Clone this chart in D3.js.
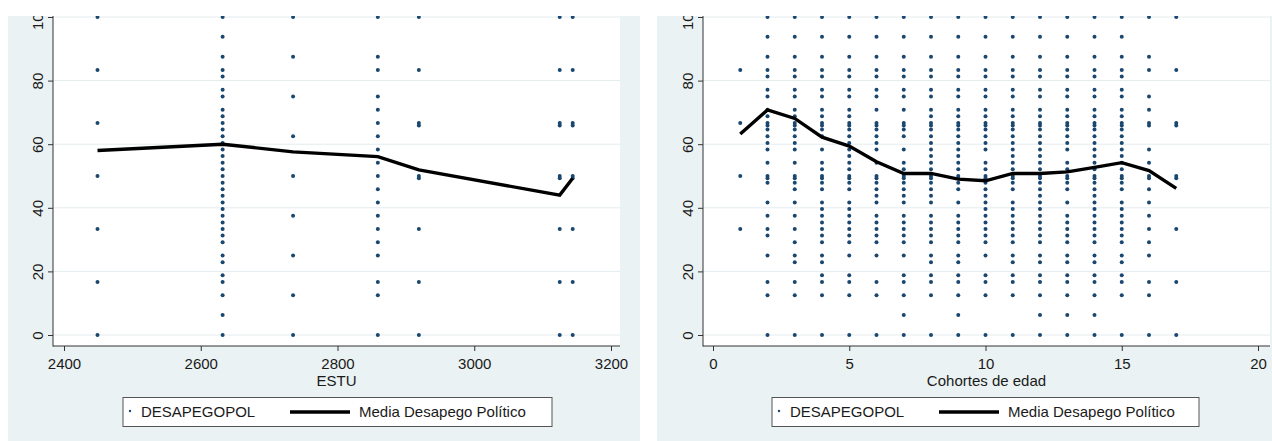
<!DOCTYPE html>
<html>
<head>
<meta charset="utf-8">
<script src="https://cdn.jsdelivr.net/npm/d3@7"></script>
<style>
  body { margin: 0; background: #fff; }
  svg { display: block; font-family: "Liberation Sans", Arial, Helvetica, sans-serif; }
</style>
</head>
<body>
<svg id="chart" width="1272" height="441"></svg>
<script>
// --- data ---
const yTicks = [0, 20, 40, 60, 80, 100];
const estuTicks = [2400, 2600, 2800, 3000, 3200];
const cohortTicks = [0, 5, 10, 15, 20];
const legendLabels = ['DESAPEGOPOL', 'Media Desapego Político'];

// ESTU columns and their DESAPEGOPOL values
const estuValues = [2449, 2632, 2735, 2859, 2919, 3125, 3144];
const estuScores = [
    [100, 83.3, 66.7, 50, 33.3, 16.7, 0],
    [100, 93.8, 87.5, 83.3, 81.3, 77.1, 75, 70.8, 68.8, 66.7, 64.6, 62.5, 60.4, 58.3, 56.3, 54.2, 52.1, 50, 47.9, 45.8, 43.8, 41.7, 39.6, 37.5, 35.4, 33.3, 31.3, 29.2, 25, 22.9, 18.8, 16.7, 12.5, 6.3, 0],
    [100, 87.5, 75, 62.5, 50, 37.5, 25, 12.5, 0],
    [100, 87.5, 83.3, 75, 70.8, 66.7, 62.5, 58.3, 54.2, 50, 45.8, 41.7, 37.5, 33.3, 29.2, 25, 16.7, 12.5, 0],
    [100, 83.3, 66.7, 65.9, 50, 49.3, 33.3, 16.7, 0],
    [100, 83.3, 66.7, 65.9, 50, 49.3, 33.3, 16.7, 0],
    [100, 83.3, 66.7, 65.9, 50, 49.3, 33.3, 16.7, 0]
];
const estuMeans = [58.0, 60.0, 57.6, 56.1, 51.9, 44.0, 49.3];

// age cohorts and their DESAPEGOPOL values
const cohortValues = [1, 2, 3, 4, 5, 6, 7, 8, 9, 10, 11, 12, 13, 14, 15, 16, 17];
const cohortScores = [
    [83.3, 66.7, 50, 33.3],
    [100, 93.8, 87.5, 83.3, 81.3, 77.1, 75, 70.8, 68.8, 66.7, 65.9, 64.6, 62.5, 60.4, 58.3, 54.2, 50, 49.3, 47.9, 41.7, 37.5, 33.3, 31.3, 25, 16.7, 12.5, 0],
    [100, 93.8, 87.5, 83.3, 81.3, 77.1, 75, 70.8, 68.8, 66.7, 65.9, 64.6, 62.5, 60.4, 58.3, 54.2, 50, 49.3, 47.9, 45.8, 41.7, 37.5, 33.3, 29.2, 25, 22.9, 16.7, 12.5, 0],
    [100, 93.8, 87.5, 83.3, 81.3, 77.1, 75, 70.8, 68.8, 66.7, 65.9, 64.6, 62.5, 58.3, 54.2, 52.1, 50, 49.3, 47.9, 45.8, 41.7, 39.6, 37.5, 35.4, 33.3, 31.3, 29.2, 25, 22.9, 18.8, 16.7, 12.5, 0],
    [100, 93.8, 87.5, 83.3, 81.3, 77.1, 75, 70.8, 68.8, 66.7, 65.9, 64.6, 62.5, 60.4, 58.3, 56.3, 54.2, 52.1, 50, 49.3, 47.9, 45.8, 41.7, 39.6, 37.5, 35.4, 33.3, 31.3, 29.2, 25, 18.8, 16.7, 12.5, 0],
    [100, 93.8, 87.5, 83.3, 81.3, 77.1, 75, 70.8, 66.7, 65.9, 64.6, 62.5, 60.4, 58.3, 54.2, 50, 49.3, 47.9, 45.8, 43.8, 41.7, 37.5, 35.4, 33.3, 31.3, 29.2, 25, 16.7, 12.5, 0],
    [100, 93.8, 87.5, 83.3, 81.3, 77.1, 75, 70.8, 66.7, 65.9, 64.6, 62.5, 58.3, 54.2, 52.1, 50, 49.3, 47.9, 45.8, 43.8, 41.7, 37.5, 35.4, 33.3, 31.3, 29.2, 25, 18.8, 16.7, 12.5, 6.3, 0],
    [100, 93.8, 87.5, 83.3, 81.3, 77.1, 75, 70.8, 68.8, 66.7, 65.9, 64.6, 62.5, 60.4, 58.3, 56.3, 54.2, 52.1, 50, 49.3, 47.9, 45.8, 43.8, 41.7, 37.5, 35.4, 33.3, 31.3, 29.2, 25, 22.9, 18.8, 16.7, 12.5, 0],
    [100, 93.8, 87.5, 83.3, 81.3, 77.1, 75, 70.8, 68.8, 66.7, 65.9, 64.6, 62.5, 60.4, 58.3, 56.3, 54.2, 52.1, 50, 49.3, 47.9, 45.8, 41.7, 37.5, 35.4, 33.3, 31.3, 29.2, 25, 22.9, 18.8, 16.7, 12.5, 6.3, 0],
    [100, 93.8, 87.5, 83.3, 81.3, 77.1, 75, 70.8, 68.8, 66.7, 65.9, 64.6, 62.5, 60.4, 58.3, 54.2, 52.1, 50, 49.3, 47.9, 45.8, 43.8, 41.7, 39.6, 37.5, 35.4, 33.3, 31.3, 29.2, 25, 18.8, 16.7, 12.5, 0],
    [100, 93.8, 87.5, 83.3, 81.3, 77.1, 75, 70.8, 68.8, 66.7, 65.9, 64.6, 62.5, 60.4, 58.3, 56.3, 54.2, 52.1, 50, 49.3, 47.9, 45.8, 41.7, 39.6, 37.5, 35.4, 33.3, 31.3, 29.2, 25, 22.9, 18.8, 16.7, 12.5, 0],
    [100, 93.8, 87.5, 83.3, 81.3, 77.1, 75, 70.8, 68.8, 66.7, 65.9, 64.6, 62.5, 60.4, 58.3, 56.3, 54.2, 52.1, 50, 49.3, 47.9, 45.8, 43.8, 41.7, 39.6, 37.5, 35.4, 33.3, 31.3, 29.2, 25, 22.9, 18.8, 16.7, 12.5, 6.3, 0],
    [100, 93.8, 87.5, 83.3, 81.3, 77.1, 75, 70.8, 68.8, 66.7, 65.9, 64.6, 62.5, 60.4, 58.3, 54.2, 52.1, 50, 49.3, 47.9, 45.8, 41.7, 37.5, 35.4, 33.3, 31.3, 29.2, 25, 22.9, 18.8, 16.7, 12.5, 6.3, 0],
    [100, 93.8, 87.5, 83.3, 81.3, 77.1, 75, 70.8, 68.8, 66.7, 65.9, 64.6, 62.5, 60.4, 58.3, 56.3, 54.2, 52.1, 50, 49.3, 47.9, 45.8, 43.8, 41.7, 39.6, 37.5, 35.4, 33.3, 31.3, 29.2, 25, 22.9, 18.8, 16.7, 12.5, 6.3, 0],
    [100, 93.8, 87.5, 83.3, 81.3, 77.1, 75, 70.8, 68.8, 66.7, 65.9, 64.6, 62.5, 60.4, 58.3, 56.3, 54.2, 52.1, 50, 49.3, 47.9, 45.8, 41.7, 39.6, 37.5, 35.4, 33.3, 31.3, 29.2, 25, 22.9, 18.8, 16.7, 12.5, 0],
    [100, 87.5, 83.3, 75, 70.8, 66.7, 65.9, 58.3, 54.2, 50, 49.3, 45.8, 41.7, 37.5, 33.3, 29.2, 25, 16.7, 12.5, 0],
    [100, 83.3, 66.7, 65.9, 50, 49.3, 33.3, 16.7, 0]
];
const cohortMeans = [63.2, 70.8, 68.1, 62.2, 59.4, 54.5, 50.8, 50.8, 49.0, 48.5, 50.8, 50.8, 51.3, 52.7, 54.2, 51.7, 46.1];

// --- drawing ---
const svg = d3.select('#chart');
const dotColor = '#1a476f';
const bgColor = '#eaf2f3';
const textColor = '#1a1a1a';

const y = d3.scaleLinear().domain([0, 100]).range([335, 17]);

function drawPanel(opt) {
    const g = svg.append('g');
    const x = d3.scaleLinear().domain(opt.domain).range(opt.range);

    // outer graph region and white plot region
    g.append('rect')
        .attr('x', opt.outerLeft).attr('y', 16)
        .attr('width', opt.outerRight - opt.outerLeft).attr('height', 441 - 16)
        .attr('fill', bgColor);
    g.append('rect')
        .attr('x', opt.plotLeft).attr('y', 0)
        .attr('width', opt.plotRight - opt.plotLeft).attr('height', 346)
        .attr('fill', '#fff');

    // grid lines
    g.append('g').selectAll('line')
        .data(yTicks)
        .join('line')
        .attr('x1', opt.plotLeft).attr('x2', opt.plotRight)
        .attr('y1', d => y(d)).attr('y2', d => y(d))
        .attr('stroke', '#e4ecee').attr('stroke-width', 1);

    // scatter points
    const pts = [];
    opt.xs.forEach((xv, i) => opt.scores[i].forEach(s => pts.push([xv, s])));
    g.append('g').selectAll('circle')
        .data(pts)
        .join('circle')
        .attr('cx', d => x(d[0]))
        .attr('cy', d => y(d[1]))
        .attr('r', 2)
        .attr('fill', dotColor);

    // mean line
    const line = d3.line()
        .x((d, i) => x(opt.xs[i]))
        .y(d => y(d));
    g.append('path')
        .datum(opt.means)
        .attr('d', line)
        .attr('fill', 'none')
        .attr('stroke', '#000')
        .attr('stroke-width', 3.4)
        .attr('stroke-linejoin', 'miter');

    // y axis
    const yAxis = g.append('g')
        .attr('transform', `translate(${opt.plotLeft},0)`)
        .call(d3.axisLeft(y).tickValues(yTicks).tickSize(5).tickSizeOuter(0));
    yAxis.attr('font-family', null).attr('font-size', null);
    yAxis.select('.domain').remove();
    yAxis.selectAll('line').attr('stroke', '#333');
    yAxis.selectAll('text')
        .attr('x', 0).attr('y', 0).attr('dy', null)
        .attr('text-anchor', 'middle')
        .attr('transform', 'translate(-10,0) rotate(-90)')
        .style('font-size', '15px')
        .attr('fill', textColor);

    // x axis
    const xAxis = g.append('g')
        .attr('transform', 'translate(0,346)')
        .call(d3.axisBottom(x).tickValues(opt.ticks).tickFormat(d3.format('d')).tickSize(5).tickSizeOuter(0));
    xAxis.attr('font-family', null).attr('font-size', null);
    xAxis.select('.domain').remove();
    xAxis.selectAll('line').attr('stroke', '#333');
    xAxis.selectAll('text')
        .attr('y', 12)
        .style('font-size', '15px')
        .attr('fill', textColor);

    // axis lines along the plot edge
    g.append('line')
        .attr('x1', opt.plotLeft).attr('x2', opt.plotLeft)
        .attr('y1', 0).attr('y2', 346.5)
        .attr('stroke', '#333').attr('stroke-width', 1);
    g.append('line')
        .attr('x1', opt.plotLeft).attr('x2', opt.plotRight)
        .attr('y1', 346).attr('y2', 346)
        .attr('stroke', '#333').attr('stroke-width', 1);

    // axis title
    const mid = (opt.plotLeft + opt.plotRight) / 2;
    g.append('text')
        .attr('x', mid).attr('y', 386)
        .attr('text-anchor', 'middle')
        .style('font-size', '15px')
        .attr('fill', textColor)
        .text(opt.title);

    // legend
    const lx = opt.legendLeft;
    const lg = g.append('g');
    lg.append('rect')
        .attr('x', lx).attr('y', 397.5)
        .attr('width', opt.legendWidth).attr('height', 29)
        .attr('fill', '#fff')
        .attr('stroke', '#555').attr('stroke-width', 1);
    lg.append('circle')
        .attr('cx', lx + 7).attr('cy', 411)
        .attr('r', 1.2)
        .attr('fill', dotColor);
    lg.append('text')
        .attr('x', lx + 18).attr('y', 417)
        .style('font-size', '15px')
        .attr('fill', textColor)
        .text(legendLabels[0]);
    lg.append('line')
        .attr('x1', lx + 167).attr('x2', lx + 227)
        .attr('y1', 412).attr('y2', 412)
        .attr('stroke', '#000').attr('stroke-width', 3.4);
    lg.append('text')
        .attr('x', lx + 236).attr('y', 417)
        .style('font-size', '15px')
        .attr('fill', textColor)
        .text(legendLabels[1]);
}

drawPanel({
    xs: estuValues, scores: estuScores, means: estuMeans,
    domain: [2400, 3200], range: [64, 611], ticks: estuTicks,
    outerLeft: 8, outerRight: 640, plotLeft: 53, plotRight: 620,
    title: 'ESTU', legendLeft: 123, legendWidth: 429
});

drawPanel({
    xs: cohortValues, scores: cohortScores, means: cohortMeans,
    domain: [0, 20], range: [713, 1258], ticks: cohortTicks,
    outerLeft: 657, outerRight: 1290, plotLeft: 703, plotRight: 1270,
    title: 'Cohortes de edad', legendLeft: 772, legendWidth: 427
});

// the picture is cut off at the top
svg.append('rect')
    .attr('x', 0).attr('y', 0)
    .attr('width', 1272).attr('height', 16)
    .attr('fill', '#fff');
</script>
</body>
</html>
